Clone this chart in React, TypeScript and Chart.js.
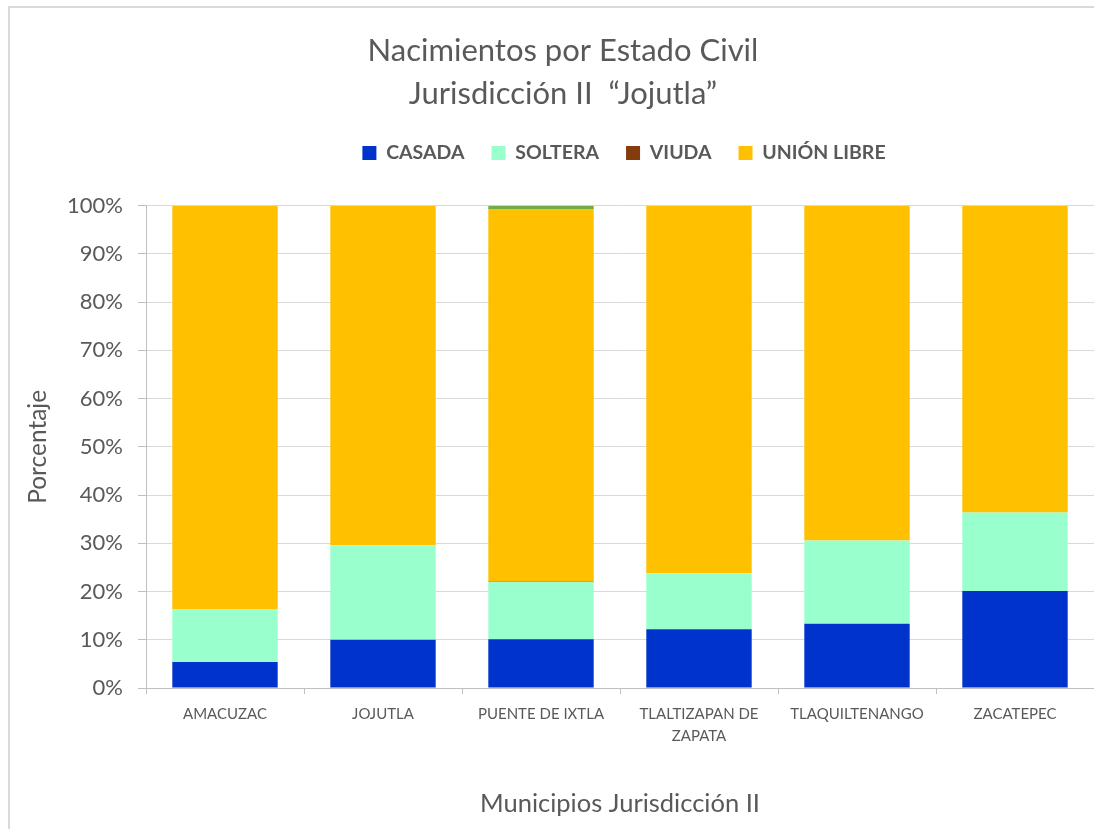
import React, { useEffect, useRef } from "react";
import { Chart, registerables } from "chart.js";

Chart.register(...registerables);

const categories: (string | string[])[] = [
  "AMACUZAC",
  "JOJUTLA",
  "PUENTE DE IXTLA",
  ["TLALTIZAPAN DE", "ZAPATA"],
  "TLAQUILTENANGO",
  "ZACATEPEC",
];

const casada = [5.4, 10.0, 10.1, 12.2, 13.3, 20.1];
const soltera = [11.0, 19.6, 11.8, 11.6, 17.3, 16.3];
const viuda = [0, 0, 0.3, 0, 0, 0];
const unionLibre = [83.6, 70.4, 77.0, 76.2, 69.4, 63.6];
const noEspecificado = [0, 0, 0.8, 0, 0, 0];

const yTicks = [0, 10, 20, 30, 40, 50, 60, 70, 80, 90, 100];

const FONT = "Lato, 'Open Sans', sans-serif";
const TEXT = "#595959";

const shiftPlugin = {
  id: "shiftBoxes",
  afterLayout(chart: any) {
    const t = chart.titleBlock;
    if (t) {
      t.left += 16;
      t.right += 16;
    }
    const l = chart.legend;
    if (l) {
      l.left += 77;
      l.right += 77;
      l.top -= 33;
      l.bottom -= 33;
    }
  },
};

export default function App() {
  const ref = useRef<HTMLCanvasElement | null>(null);

  useEffect(() => {
    if (!ref.current) return;
    const legendColors: Record<string, string> = { VIUDA: "#843C0C" };
    const chart = new Chart(ref.current, {
      type: "bar",
      data: {
        labels: categories as any,
        datasets: [
          { label: "CASADA", data: casada, backgroundColor: "#0033CC" },
          { label: "SOLTERA", data: soltera, backgroundColor: "#99FFCC" },
          { label: "VIUDA", data: viuda, backgroundColor: "#A5A5A5" },
          { label: "UNIÓN LIBRE", data: unionLibre, backgroundColor: "#FFC000" },
          { label: "NO ESPECIFICADO", data: noEspecificado, backgroundColor: "#70AD47" },
        ],
      },
      options: {
        responsive: false,
        animation: false,
        layout: { padding: 0 },
        datasets: {
          bar: { categoryPercentage: 1, barPercentage: 0.667, borderWidth: 0 },
        },
        plugins: {
          title: {
            display: true,
            text: ["Nacimientos por Estado Civil", "Jurisdicción II  “Jojutla”"],
            color: TEXT,
            font: { family: FONT, size: 31, weight: "normal", lineHeight: 1.39 },
            padding: { top: 29, bottom: 34 },
          },
          legend: {
            position: "top",
            labels: {
              color: TEXT,
              font: { family: FONT, size: 19.5, weight: "bold" },
              boxWidth: 14,
              boxHeight: 14,
              padding: 27,
              filter: (item: any) => item.text !== "NO ESPECIFICADO",
              generateLabels: (c: any) => {
                const items = Chart.defaults.plugins.legend.labels.generateLabels(c);
                items.forEach((it: any) => {
                  if (legendColors[it.text]) {
                    it.fillStyle = legendColors[it.text];
                    it.strokeStyle = legendColors[it.text];
                  }
                  it.lineWidth = 0;
                });
                return items;
              },
            },
          },
          tooltip: { enabled: false },
        },
        scales: {
          x: {
            stacked: true,
            offset: true,
            grid: {
              offset: true,
              drawOnChartArea: false,
              drawTicks: true,
              tickLength: 6,
              color: "#BFBFBF",
            },
            border: { display: true, color: "#BFBFBF" },
            ticks: {
              color: TEXT,
              font: { family: FONT, size: 15, lineHeight: 1.47 },
              padding: 9,
              maxRotation: 0,
              autoSkip: false,
            },
            title: {
              display: true,
              text: "Municipios Jurisdicción II",
              color: TEXT,
              font: { family: FONT, size: 25.5, weight: "normal" },
              padding: 10,
            },
            afterFit: (scale: any) => {
              scale.height = 141;
            },
          },
          y: {
            stacked: true,
            min: 0,
            max: 100,
            afterBuildTicks: (scale: any) => {
              scale.ticks = yTicks.map((v) => ({ value: v }));
            },
            grid: { color: "#D9D9D9", drawTicks: true, tickLength: 8, tickColor: "#BFBFBF" },
            border: { display: true, color: "#BFBFBF" },
            ticks: {
              color: TEXT,
              font: { family: FONT, size: 22 },
              padding: 15,
              callback: (v: any) => v + "%",
            },
            title: {
              display: true,
              text: "Porcentaje",
              color: TEXT,
              font: { family: FONT, size: 24.5, weight: "normal" },
              padding: 23,
            },
            afterFit: (scale: any) => {
              scale.width = 146;
            },
          },
        },
      },
      plugins: [shiftPlugin],
    });
    return () => chart.destroy();
  }, []);

  return (
    <div
      style={{
        position: "fixed",
        left: 0,
        top: 0,
        width: 1094,
        height: 829,
        overflow: "hidden",
        background: "#fff",
      }}
    >
      <div
        style={{
          position: "absolute",
          left: 8,
          top: 6,
          width: 1200,
          height: 900,
          border: "2px solid #D9D9D9",
          boxSizing: "border-box",
        }}
      />
      <canvas
        ref={ref}
        width={1094}
        height={829}
        style={{ position: "absolute", left: 0, top: 0, width: 1094, height: 829 }}
      />
    </div>
  );
}
